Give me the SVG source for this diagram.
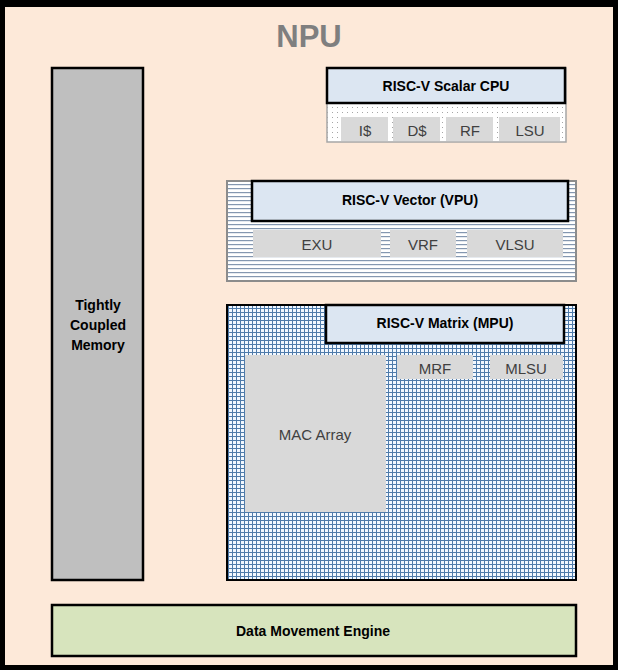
<svg xmlns="http://www.w3.org/2000/svg" width="618" height="670" viewBox="0 0 618 670">
<defs>
<pattern id="dots" width="5" height="5" patternUnits="userSpaceOnUse">
<rect width="5" height="5" fill="#FFFFFF"/>
<rect x="2" y="2" width="1" height="1" fill="#A6A6A6"/>
</pattern>
<pattern id="hstripes" width="4" height="4" patternUnits="userSpaceOnUse">
<rect width="4" height="4" fill="#FFFFFF"/>
<rect x="0" y="0" width="4" height="1.2" fill="#8497B0"/>
</pattern>
<pattern id="grid" width="4" height="4" patternUnits="userSpaceOnUse">
<rect width="4" height="4" fill="#F2F8FF"/>
<rect x="0" y="0" width="4" height="1" fill="#4F7BAA"/>
<rect x="0" y="0" width="1" height="4" fill="#4F7BAA"/>
</pattern>
<style>
.hdr{fill:#DCE6F2;stroke:#000;stroke-width:2.5}
.sub{fill:#D9D9D9}
.t{font-family:"Liberation Sans",Arial,sans-serif;text-anchor:middle;dominant-baseline:central}
.b{font-weight:bold;font-size:14px;fill:#000}
.n{font-size:15px;fill:#404040}
</style>
</defs>
<rect x="0" y="0" width="618" height="670" fill="#000"/>
<rect x="5" y="7" width="608" height="658" fill="#FDE9D9"/>
<text class="t" x="309" y="36" style="font-size:31px;font-weight:bold;fill:#7F7F7F">NPU</text>

<g id="tcm">
<rect x="52" y="68" width="91" height="512" fill="#BFBFBF" stroke="#000" stroke-width="2.5"/>
<text class="t b" x="98" y="305">Tightly</text>
<text class="t b" x="98" y="325">Coupled</text>
<text class="t b" x="98" y="345">Memory</text>
</g>

<g id="scalar">
<rect x="327" y="68" width="239" height="74" fill="url(#dots)" stroke="#A6A6A6" stroke-width="1.5"/>
<rect class="hdr" x="327" y="68" width="238" height="35"/>
<text class="t b" x="446" y="86">RISC-V Scalar CPU</text>
<rect class="sub" x="341" y="117" width="47" height="24"/>
<rect class="sub" x="393" y="117" width="47" height="24"/>
<rect class="sub" x="446" y="117" width="47" height="24"/>
<rect class="sub" x="499" y="117" width="61" height="24"/>
<text class="t n" x="365" y="130">I$</text>
<text class="t n" x="417" y="130">D$</text>
<text class="t n" x="470" y="130">RF</text>
<text class="t n" x="530" y="130">LSU</text>
</g>

<g id="vector">
<rect x="227" y="181" width="349" height="100" fill="url(#hstripes)" stroke="#8C8C8C" stroke-width="2"/>
<rect class="hdr" x="252" y="181" width="316" height="40"/>
<text class="t b" x="410" y="200">RISC-V Vector (VPU)</text>
<rect class="sub" x="253" y="230" width="128" height="27"/>
<rect class="sub" x="390" y="230" width="66" height="27"/>
<rect class="sub" x="467" y="230" width="96" height="27"/>
<text class="t n" x="317" y="244">EXU</text>
<text class="t n" x="423" y="244">VRF</text>
<text class="t n" x="515" y="244">VLSU</text>
</g>

<g id="matrix">
<rect x="227" y="305" width="349" height="275" fill="url(#grid)" stroke="#000" stroke-width="2"/>
<rect class="hdr" x="326" y="305" width="238" height="38"/>
<text class="t b" x="445" y="323">RISC-V Matrix (MPU)</text>
<rect class="sub" x="245" y="355" width="141" height="157"/>
<text class="t n" x="315" y="434">MAC Array</text>
<rect class="sub" x="397" y="355" width="76" height="24"/>
<rect class="sub" x="490" y="355" width="73" height="24"/>
<text class="t n" x="435" y="368">MRF</text>
<text class="t n" x="526" y="368">MLSU</text>
</g>

<g id="dme">
<rect x="52" y="605" width="524" height="51" fill="#D7E4BD" stroke="#000" stroke-width="2.5"/>
<text class="t b" x="313" y="631">Data Movement Engine</text>
</g>

<g id="connectors"/>
</svg>
